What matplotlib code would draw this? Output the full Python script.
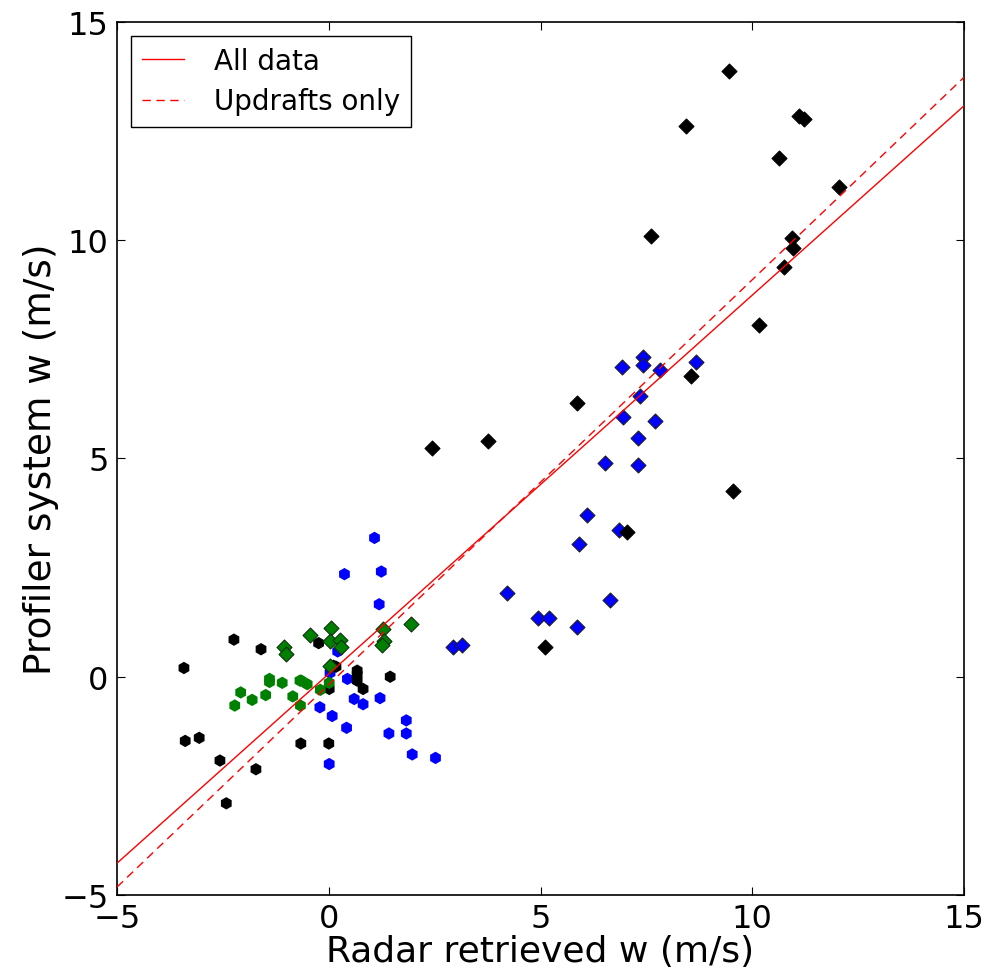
import numpy as np
import matplotlib
matplotlib.use("Agg")
import matplotlib.pyplot as plt

# --- data --------------------------------------------------------------
# black diamonds
blk_d_x = [9.44, 8.44, 11.11, 11.23, 10.62, 12.05, 7.61, 10.95, 10.97, 10.76,
           10.17, 8.55, 9.55, 7.05, 5.85, 3.77, 2.43, 5.11]
blk_d_y = [13.88, 12.61, 12.84, 12.78, 11.88, 11.21, 10.09, 10.04, 9.82, 9.39,
           8.06, 6.88, 4.26, 3.32, 6.26, 5.39, 5.23, 0.67]
# blue diamonds
blu_d_x = [7.43, 7.43, 6.92, 7.82, 8.67, 7.35, 6.94, 7.70, 7.29, 6.52, 7.31,
           6.86, 6.09, 5.92, 4.20, 6.64, 4.95, 5.20, 5.85, 2.94, 3.14]
blu_d_y = [7.32, 7.14, 7.09, 7.03, 7.20, 6.44, 5.96, 5.86, 5.46, 4.89, 4.86,
           3.36, 3.71, 3.04, 1.91, 1.76, 1.35, 1.34, 1.15, 0.67, 0.73]
# green diamonds
grn_d_x = [-1.05, -1.01, -0.44, 0.05, 0.03, 0.27, 0.28, 0.03, 1.29, 1.30, 1.25, 1.94]
grn_d_y = [0.69, 0.52, 0.95, 1.12, 0.83, 0.84, 0.68, 0.25, 1.09, 0.83, 0.72, 1.20]
# green hexagons
grn_h_x = [-2.22, -2.08, -1.81, -1.49, -1.40, -1.40, -1.10, -0.85, -0.68, -0.65,
           -0.51, -0.67, -0.20, 0.01]
grn_h_y = [-0.66, -0.36, -0.53, -0.42, -0.05, -0.12, -0.14, -0.45, -0.09, -0.09,
           -0.17, -0.66, -0.30, -0.14]
# black hexagons
blk_h_x = [-3.42, -2.24, -1.60, -0.24, 0.11, 0.17, 0.01, 0.67, 0.67, 0.67, 0.81,
           1.45, -3.39, -3.06, -2.57, -1.72, -2.42, -0.66, 0.00]
blk_h_y = [0.20, 0.85, 0.63, 0.77, 0.25, 0.23, -0.28, 0.14, 0.05, -0.09, -0.28,
           0.00, -1.47, -1.40, -1.92, -2.12, -2.90, -1.53, -1.53]
# blue hexagons
blu_h_x = [1.08, 0.37, 1.24, 1.19, 0.21, 0.03, 0.44, -0.21, 0.08, 0.42, 0.60,
           0.81, 1.21, 1.83, 1.83, 1.42, 1.97, 2.52, 0.01]
blu_h_y = [3.18, 2.35, 2.41, 1.66, 0.58, 0.09, -0.05, -0.70, -0.90, -1.17, -0.51,
           -0.63, -0.49, -1.00, -1.30, -1.30, -1.78, -1.86, -2.00]

# fitted lines (slope, intercept)
fit_all = (0.8675, 0.067)
fit_up = (0.9275, -0.18)

XLIM = (-5, 15)
YLIM = (-5, 15)

fig = plt.figure(figsize=(9.86, 9.70), dpi=100)
ax = fig.add_axes([0.1187, 0.0763, 0.859, 0.900])

hex_kw = dict(marker="h", s=80, edgecolors="none", zorder=2)
dia_kw = dict(marker="D", s=58, linewidths=0.8, zorder=3)

ax.scatter(blu_h_x, blu_h_y, c="b", **hex_kw)
ax.scatter(blk_h_x, blk_h_y, c="k", **hex_kw)
ax.scatter(grn_h_x, grn_h_y, c="g", **hex_kw)
ax.scatter(blu_d_x, blu_d_y, c="b", edgecolors="#202020", **dia_kw)
ax.scatter(blk_d_x, blk_d_y, c="k", edgecolors="k", **dia_kw)
ax.scatter(grn_d_x, grn_d_y, c="g", edgecolors="#103010", **dia_kw)

xx = np.array(XLIM)
ax.plot(xx, fit_all[0] * xx + fit_all[1], "r-", lw=1, label="All data", zorder=4)
ax.plot(xx, fit_up[0] * xx + fit_up[1], "r--", lw=1, dashes=(6, 4),
        label="Updrafts only", zorder=4)

ax.set_xlim(XLIM); ax.set_ylim(YLIM)
ax.set_xticks([-5, 0, 5, 10, 15]); ax.set_yticks([-5, 0, 5, 10, 15])
ax.tick_params(direction="in", top=True, right=True, length=6, labelsize=23, pad=6)
for s in ax.spines.values():
    s.set_linewidth(1.2)
ax.set_xlabel("Radar retrieved w (m/s)", fontsize=26, labelpad=0)
ax.set_ylabel("Profiler system w (m/s)", fontsize=27, labelpad=2)

leg = ax.legend(loc="upper left", fontsize=20, fancybox=False, framealpha=1,
                edgecolor="k", handlelength=1.5, handletextpad=1.1,
                borderaxespad=0.5, labelspacing=0.45)
leg.get_frame().set_linewidth(1.0)

fig.savefig("out.png", dpi=100)
